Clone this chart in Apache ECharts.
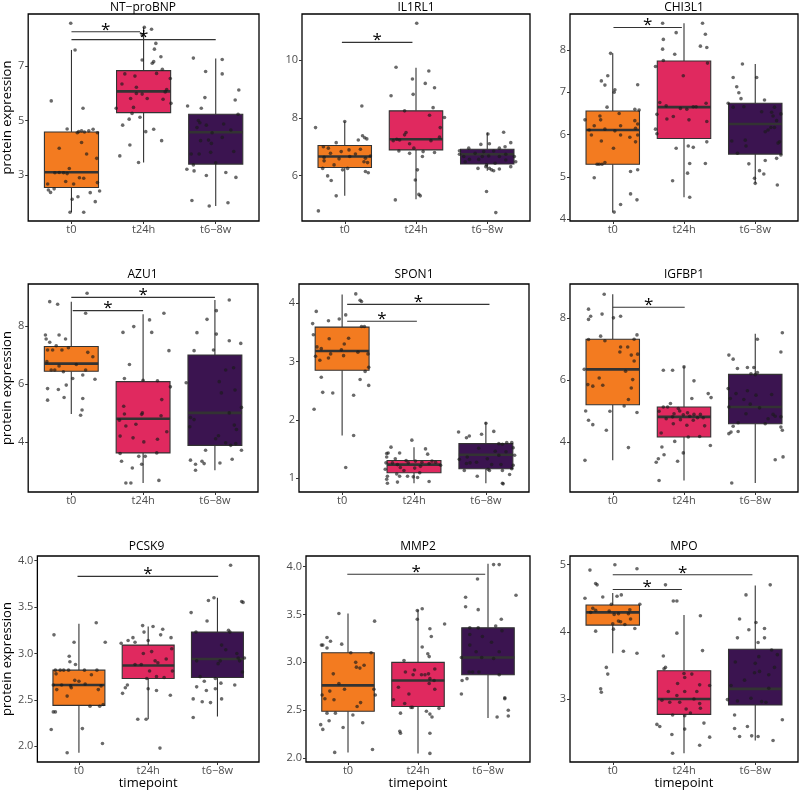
<!DOCTYPE html>
<html><head><meta charset="utf-8">
<script src="https://cdn.jsdelivr.net/npm/echarts@6/dist/echarts.min.js"></script>
<style>html,body{margin:0;padding:0;background:#fff}#c{width:800px;height:793px}</style>
</head><body><div id="c"></div>
<script>
// ---------- DATA ----------
const categories = ['t0', 't24h', 't6−8w'];
const panelTitles = ['NT−proBNP', 'IL1RL1', 'CHI3L1', 'AZU1', 'SPON1', 'IGFBP1', 'PCSK9', 'MMP2', 'MPO'];

// points: [jitter offset, protein expression]
const NTproBNP_t0 = [[-0.01,8.57],[0.05,7.59],[-0.28,5.72],[0.16,5.45],[-0.06,4.69],[0.10,4.59],[0.08,4.55],[0.14,4.62],[0.18,4.58],[0.24,4.62],[0.30,4.68],[0.36,4.55],[-0.17,3.98],[0.14,4.19],[0.21,3.77],[0.35,3.61],[-0.03,3.24],[-0.23,3.08],[-0.17,3.09],[-0.11,3.08],[-0.06,3.05],[0.11,2.90],[0.17,2.88],[-0.08,2.76],[0.03,2.67],[-0.33,2.67],[0.36,2.72],[-0.32,2.45],[-0.29,2.36],[-0.24,2.49],[0.39,2.41],[0.26,2.35],[0.09,2.20],[0.01,2.11],[0.33,2.02],[-0.02,1.63],[0.17,1.63]];
const NTproBNP_t24h = [[0.01,8.42],[0.11,8.35],[-0.02,8.14],[0.17,7.83],[0.15,7.62],[0.24,7.34],[-0.02,7.22],[0.14,7.16],[0.12,7.10],[0.26,6.88],[-0.26,6.71],[-0.12,6.63],[0.18,6.73],[0.37,6.54],[-0.30,6.34],[-0.10,6.22],[0.32,6.14],[0.30,6.05],[-0.18,5.81],[-0.10,5.99],[-0.02,5.97],[0.05,5.81],[0.27,5.78],[0.38,5.63],[-0.38,5.45],[-0.14,5.48],[-0.16,5.26],[-0.20,5.05],[-0.05,5.12],[-0.29,4.83],[0.03,4.59],[0.14,4.68],[-0.19,4.10],[0.25,4.26],[-0.33,3.70],[-0.07,3.46]];
const NTproBNP_t68w = [[-0.31,7.29],[0.09,7.24],[-0.14,6.80],[0.09,6.71],[0.32,6.12],[0.27,5.75],[-0.15,5.84],[-0.39,5.53],[-0.20,5.45],[0.31,5.23],[-0.24,5.00],[-0.22,4.92],[-0.13,4.83],[-0.26,4.74],[0.11,4.87],[0.21,4.65],[-0.05,4.55],[-0.10,4.28],[-0.21,4.26],[-0.06,4.16],[0.09,4.38],[-0.34,3.77],[-0.23,3.77],[-0.07,3.83],[0.25,3.86],[-0.31,3.37],[0.00,3.45],[-0.40,3.21],[-0.30,3.15],[0.14,3.09],[-0.13,2.98],[0.28,2.91],[-0.33,2.06],[0.17,1.98],[-0.09,1.86]];
const NTproBNP_box = [[1.64,2.54,3.10,4.58,7.59],[3.46,5.29,6.07,6.83,8.42],[1.86,3.40,4.57,5.23,7.28]];
const NTproBNP_sig = [[1.0,1.95,8.26],[1.0,3.0,7.97]];
const NTproBNP_yticks = [3,5,7];
const NTproBNP_yrange = [1.31,8.91];

const IL1RL1_t0 = [[-0.41,7.66],[0,7.87],[0.24,8.41],[0.25,7.38],[0.28,7.31],[0.31,7.27],[0.19,7.23],[-0.12,7.14],[-0.30,7.00],[-0.23,6.95],[0.22,6.91],[0.06,6.89],[-0.05,6.83],[0.15,6.75],[-0.20,6.77],[-0.29,6.63],[0.07,6.66],[0.36,6.68],[0.29,6.60],[-0.08,6.58],[-0.29,6.51],[0.27,6.48],[0.32,6.45],[-0.15,6.37],[-0.31,6.25],[-0.03,6.20],[0.04,6.25],[0.29,6.14],[0.33,6.10],[-0.24,5.99],[-0.19,5.83],[-0.12,5.30],[-0.37,4.78]];
const IL1RL1_t24h = [[0.01,11.27],[-0.28,9.75],[0.18,9.62],[-0.05,9.34],[0.13,9.19],[0.26,9.04],[-0.04,8.81],[-0.35,8.76],[0.24,8.35],[-0.16,8.24],[0.19,8.09],[0.40,8.01],[0.34,7.66],[-0.14,7.49],[-0.16,7.41],[-0.32,7.21],[-0.27,7.26],[-0.23,7.23],[-0.09,7.10],[0.21,7.21],[0.33,7.33],[-0.03,6.95],[-0.24,6.85],[-0.09,6.77],[0.10,6.83],[0.26,6.80],[0.09,6.66],[0.02,6.20],[-0.01,5.85],[0.04,5.35],[0.06,5.30],[-0.29,5.16]];
const IL1RL1_t68w = [[0.01,7.44],[0.23,7.50],[0.33,7.14],[0.03,7.10],[-0.09,7.08],[-0.39,6.86],[-0.26,6.95],[0.17,6.95],[0.25,7.00],[0.09,6.85],[-0.05,6.83],[-0.17,6.77],[-0.39,6.74],[0.26,6.74],[-0.33,6.66],[-0.07,6.66],[0.02,6.68],[0.17,6.66],[0.38,6.66],[-0.25,6.56],[-0.12,6.56],[0.26,6.54],[-0.31,6.48],[0.40,6.48],[0.11,6.43],[-0.01,6.37],[0.33,6.31],[-0.13,6.25],[0.03,6.25],[-0.02,6.31],[0.06,6.20],[0.17,6.23],[0.09,6.17],[-0.01,5.45],[0.12,4.72]];
const IL1RL1_box = [[5.30,6.28,6.66,7.04,7.87],[5.18,6.89,7.26,8.24,9.73],[6.17,6.40,6.74,6.91,7.49]];
const IL1RL1_sig = [[0.96,1.95,10.61]];
const IL1RL1_yticks = [6,8,10];
const IL1RL1_yrange = [4.43,11.59];

const CHI3L1_t0 = [[-0.03,7.92],[-0.07,7.39],[-0.16,7.27],[-0.11,7.17],[0.35,7.18],[0.03,7.06],[0.02,7.00],[-0.08,6.65],[0.31,6.60],[0.37,6.58],[0.09,6.50],[-0.18,6.44],[-0.39,6.35],[-0.17,6.35],[0.31,6.33],[0.35,6.25],[-0.26,6.21],[0.11,6.21],[-0.33,6.11],[-0.11,6.13],[0.32,6.15],[0.03,6.09],[-0.30,5.99],[0.11,5.99],[0.24,5.94],[0.35,5.99],[-0.16,5.85],[0.32,5.83],[0.01,5.68],[-0.11,5.34],[-0.22,5.30],[-0.19,5.30],[-0.15,5.30],[-0.26,4.98],[0.25,5.13],[0.35,5.17],[0.25,4.60],[0.11,4.35],[0.34,4.46],[0.02,4.17]];
const CHI3L1_t24h = [[-0.30,8.63],[0.26,8.63],[-0.11,8.41],[0.30,8.37],[-0.29,8.25],[0.23,8.09],[0.32,8.06],[-0.30,8.02],[-0.13,7.90],[-0.29,7.75],[0.33,7.69],[-0.40,7.61],[-0.01,7.39],[-0.34,6.76],[0.31,6.74],[-0.25,6.68],[0.13,6.66],[0.17,6.66],[-0.05,6.62],[0.04,6.60],[-0.38,6.48],[-0.15,6.43],[-0.24,6.37],[0.07,6.35],[0.32,6.31],[-0.40,6.13],[-0.38,6.02],[-0.11,5.68],[0.06,5.73],[0.13,5.70],[0.32,5.83],[0.08,5.32],[0.30,5.32],[0.05,5.09],[-0.16,4.91],[0.08,4.52]];
const CHI3L1_t68w = [[-0.18,7.67],[-0.31,7.35],[0.02,7.35],[-0.26,7.13],[-0.23,6.99],[-0.20,6.85],[0.13,6.82],[-0.38,6.74],[-0.31,6.65],[-0.16,6.66],[0.27,6.65],[0.09,6.54],[0.23,6.53],[0.25,6.44],[0.36,6.49],[0.30,6.33],[0.27,6.17],[0.22,6.17],[0.18,6.11],[0.14,6.07],[-0.14,5.87],[-0.33,5.85],[0.34,5.83],[0.32,5.80],[-0.13,5.73],[-0.25,5.56],[0.36,5.52],[-0.09,5.31],[0.30,5.44],[0.14,5.39],[0.06,5.15],[0.12,5.07],[-0.01,4.97],[0.00,4.85],[0.31,4.81]];
const CHI3L1_box = [[4.16,5.30,6.11,6.56,7.92],[4.52,5.91,6.65,7.74,8.63],[4.85,5.54,6.25,6.74,7.67]];
const CHI3L1_sig = [[1.01,1.97,8.53]];
const CHI3L1_yticks = [4,5,6,7,8];
const CHI3L1_yrange = [3.96,8.85];

const AZU1_t0 = [[0.22,9.13],[-0.30,8.84],[-0.19,8.75],[0.20,8.44],[-0.36,7.69],[-0.17,7.69],[-0.35,7.55],[-0.08,7.55],[-0.30,7.44],[-0.21,7.32],[-0.04,7.25],[-0.33,7.17],[-0.26,7.17],[-0.13,7.17],[0.23,7.09],[0.30,6.94],[-0.34,6.77],[0.07,6.67],[-0.17,6.62],[-0.28,6.48],[-0.23,6.48],[-0.11,6.42],[0.20,6.48],[0.16,6.31],[0.02,6.19],[0.33,6.16],[-0.33,5.84],[-0.18,5.81],[-0.07,5.96],[-0.10,5.53],[-0.33,5.44],[0.16,5.50],[0.15,5.10],[0.13,4.92]];
const AZU1_t24h = [[0.29,8.44],[0.09,8.21],[-0.13,7.98],[-0.28,7.78],[0.12,7.78],[0.36,7.15],[-0.19,6.67],[-0.26,6.19],[0.00,6.13],[0.20,6.11],[0.38,5.90],[0.26,5.46],[-0.27,5.23],[-0.01,5.00],[-0.02,4.95],[-0.26,4.96],[-0.33,4.75],[-0.10,4.61],[-0.24,4.55],[0.25,4.90],[0.33,4.35],[-0.32,4.20],[-0.14,4.14],[0.20,4.09],[0.01,4.00],[-0.32,3.60],[0.19,3.62],[-0.06,3.50],[0.03,3.50],[-0.30,3.33],[-0.02,3.23],[-0.15,3.10],[-0.24,2.58],[-0.17,2.58],[0.22,2.67]];
const AZU1_t68w = [[0.20,8.90],[0.02,8.53],[-0.11,8.23],[-0.25,7.77],[0.02,7.72],[0.20,7.49],[0.36,7.40],[-0.29,7.15],[-0.02,7.17],[0.26,6.56],[0.15,6.48],[0.06,6.08],[-0.40,6.04],[0.28,5.79],[0.09,5.69],[0.37,5.19],[-0.34,4.84],[0.20,5.00],[-0.29,4.77],[-0.35,4.52],[0.27,4.58],[0.30,4.43],[0.01,4.11],[0.05,4.21],[0.15,3.97],[0.29,3.94],[0.22,3.88],[-0.13,3.71],[0.37,3.71],[-0.34,3.37],[0.24,3.40],[-0.18,3.33],[-0.15,3.25],[-0.27,3.23],[0.07,3.27],[-0.27,3.02]];
const AZU1_box = [[4.96,6.44,6.70,7.29,8.84],[2.58,3.62,4.80,6.08,8.41],[3.02,3.88,5.00,7.00,8.90]];
const AZU1_sig = [[1.02,2.0,8.53],[1.0,3.0,8.99]];
const AZU1_yticks = [4,6,8];
const AZU1_yrange = [2.27,9.45];

const SPON1_t0 = [[0.19,4.16],[0.25,4.05],[0.27,4.03],[-0.36,3.86],[0.05,3.80],[-0.19,3.70],[-0.04,3.73],[-0.41,3.65],[0.27,3.60],[0.31,3.60],[-0.40,3.46],[-0.18,3.39],[0.09,3.40],[0.03,3.30],[-0.35,3.25],[-0.29,3.22],[-0.01,3.20],[0.22,3.16],[-0.16,3.13],[-0.37,3.09],[0.02,3.10],[0.36,3.13],[-0.19,3.06],[-0.31,3.02],[0.37,2.90],[0.32,2.83],[-0.29,2.73],[0.25,2.69],[0.37,2.59],[-0.27,2.47],[-0.13,2.46],[0.16,2.42],[-0.39,2.18],[0.16,1.73],[0.05,1.18]];
const SPON1_t24h = [[-0.03,1.65],[-0.32,1.53],[0.16,1.50],[-0.20,1.43],[-0.36,1.43],[-0.38,1.42],[0.19,1.41],[-0.38,1.36],[-0.26,1.33],[-0.11,1.30],[0.02,1.29],[0.25,1.29],[-0.39,1.26],[-0.30,1.26],[-0.08,1.26],[0.11,1.27],[0.21,1.25],[0.30,1.27],[-0.23,1.23],[0.37,1.22],[0.09,1.20],[-0.19,1.18],[0.01,1.17],[-0.40,1.15],[-0.14,1.13],[-0.24,1.07],[0.08,1.09],[-0.37,1.03],[-0.20,1.03],[-0.09,1.03],[-0.01,1.02],[0.05,1.01],[-0.38,0.98],[-0.23,0.93],[-0.37,0.91],[0.21,0.94]];
const SPON1_t68w = [[0.00,1.94],[-0.38,1.79],[0.11,1.80],[-0.06,1.75],[-0.23,1.72],[-0.27,1.69],[0.29,1.61],[0.36,1.61],[0.18,1.59],[0.23,1.58],[-0.10,1.51],[0.38,1.52],[0.13,1.46],[0.28,1.45],[0.18,1.39],[0.40,1.39],[-0.26,1.36],[-0.37,1.32],[0.02,1.33],[-0.13,1.27],[-0.22,1.26],[-0.27,1.25],[0.08,1.23],[0.21,1.23],[0.38,1.22],[0.03,1.15],[0.36,1.16],[0.05,1.13],[-0.30,1.13],[0.23,1.13],[0.33,1.06],[-0.12,1.03],[0.23,0.91],[0.24,0.90]];
const SPON1_box = [[1.73,2.85,3.18,3.59,4.15],[0.91,1.09,1.23,1.30,1.53],[0.91,1.16,1.40,1.59,1.96]];
const SPON1_sig = [[1.07,2.04,3.69],[1.07,3.05,3.98]];
const SPON1_yticks = [1,2,3,4];
const SPON1_yrange = [0.76,4.33];

const IGFBP1_t0 = [[-0.12,8.76],[-0.34,8.28],[-0.31,8.05],[-0.15,8.12],[0.11,8.05],[0.01,8.00],[-0.34,7.95],[0.34,7.45],[-0.17,7.41],[-0.34,7.30],[-0.11,7.26],[0.30,7.31],[0.11,7.06],[0.21,7.06],[0.10,6.90],[0.26,6.80],[0.35,6.83],[0.30,6.61],[0.18,6.28],[-0.40,6.34],[-0.19,6.06],[0.28,6.01],[-0.35,5.85],[-0.28,5.80],[-0.14,5.83],[0.26,5.74],[0.22,5.37],[0.16,5.16],[-0.04,4.99],[-0.38,5.00],[0.34,4.95],[-0.34,4.70],[-0.28,4.56],[-0.09,4.38],[0.22,3.82],[-0.39,3.41]];
const IGFBP1_t24h = [[-0.29,6.31],[-0.16,6.31],[0.00,6.42],[0.14,5.97],[0.11,5.40],[0.34,5.56],[0.38,5.43],[-0.19,5.24],[-0.29,5.13],[-0.23,5.13],[-0.08,5.08],[-0.06,5.00],[-0.35,4.99],[0.05,4.94],[-0.14,4.91],[0.14,4.89],[0.23,4.89],[-0.01,4.88],[-0.16,4.81],[0.08,4.83],[0.19,4.78],[0.27,4.78],[-0.25,4.75],[-0.05,4.72],[0.13,4.70],[-0.15,4.59],[0.04,4.54],[0.29,4.52],[-0.32,4.29],[0.06,4.16],[0.22,4.18],[-0.13,4.02],[0.37,3.89],[-0.31,3.84],[-0.01,3.65],[-0.28,3.59],[-0.36,3.46],[-0.09,3.38],[-0.39,3.35],[-0.35,2.76]];
const IGFBP1_t68w = [[0.38,7.52],[0.03,7.31],[0.36,6.90],[-0.37,6.80],[-0.31,6.67],[-0.25,6.37],[-0.11,6.40],[-0.02,6.40],[-0.06,6.20],[0.00,6.17],[0.03,6.24],[-0.38,5.72],[-0.11,5.65],[-0.27,5.56],[0.23,5.53],[0.01,5.51],[-0.35,5.40],[-0.16,5.37],[-0.07,5.22],[-0.37,5.13],[0.06,5.10],[-0.13,4.91],[0.25,4.89],[0.28,4.83],[0.18,4.75],[0.36,4.81],[0.14,4.59],[-0.24,4.62],[-0.31,4.51],[0.36,4.48],[0.38,4.38],[-0.24,4.34],[-0.34,4.32],[-0.37,4.27],[0.28,3.43],[0.39,3.52],[-0.33,2.68]];
const IGFBP1_box = [[3.41,5.20,6.34,7.31,8.76],[2.76,4.16,4.81,5.13,6.44],[2.68,4.59,5.13,6.18,7.49]];
const IGFBP1_sig = [[1.0,2.01,8.34]];
const IGFBP1_yticks = [4,6,8];
const IGFBP1_yrange = [2.39,9.09];

const PCSK9_t0 = [[0.25,3.33],[-0.36,3.20],[0.38,3.12],[-0.07,3.12],[-0.14,2.97],[-0.13,2.91],[-0.05,2.88],[-0.34,2.82],[-0.27,2.82],[-0.22,2.82],[-0.15,2.82],[0.08,2.82],[0.26,2.82],[-0.33,2.78],[0.18,2.77],[-0.06,2.71],[0.00,2.70],[-0.37,2.66],[-0.25,2.66],[-0.12,2.65],[0.09,2.67],[0.32,2.65],[-0.32,2.61],[-0.11,2.63],[0.28,2.61],[-0.17,2.54],[0.35,2.45],[0.16,2.43],[0.30,2.43],[-0.37,2.37],[-0.34,2.37],[0.05,2.19],[-0.40,2.18],[0.34,2.03],[-0.17,1.93]];
const PCSK9_t24h = [[-0.08,3.30],[0.07,3.29],[0.21,3.26],[-0.06,3.23],[0.18,3.20],[-0.22,3.17],[-0.19,3.12],[-0.39,3.11],[0.00,3.14],[0.33,3.17],[-0.29,3.14],[0.34,3.05],[0.05,3.02],[-0.07,3.00],[0.26,2.94],[0.10,2.92],[0.14,2.90],[-0.19,2.88],[-0.10,2.88],[0.02,2.81],[0.35,2.81],[-0.02,2.73],[-0.30,2.66],[0.12,2.75],[0.23,2.74],[-0.33,2.63],[0.00,2.62],[-0.37,2.57],[0.12,2.60],[0.32,2.55],[-0.15,2.29],[-0.03,2.29],[0.17,1.98]];
const PCSK9_t68w = [[0.19,3.95],[-0.05,3.60],[-0.13,3.57],[0.35,3.56],[0.37,3.55],[-0.38,3.44],[-0.15,3.35],[0.16,3.25],[0.18,3.23],[-0.31,3.23],[0.06,3.09],[0.12,3.04],[0.28,3.00],[-0.30,2.92],[0.30,2.95],[0.39,2.95],[0.04,2.92],[0.32,2.92],[0.01,2.89],[0.36,2.80],[-0.25,2.75],[-0.03,2.73],[-0.19,2.70],[0.05,2.68],[0.25,2.66],[-0.30,2.64],[-0.03,2.62],[-0.16,2.60],[-0.35,2.51],[0.06,2.51],[-0.22,2.48],[-0.10,2.47],[-0.35,2.31]];
const PCSK9_box = [[1.93,2.44,2.66,2.82,3.32],[2.29,2.73,2.87,3.09,3.29],[2.32,2.74,2.94,3.23,3.60]];
const PCSK9_sig = [[0.98,3.01,3.83]];
const PCSK9_yticks = [2.0,2.5,3.0,3.5,4.0];
const PCSK9_yrange = [1.83,4.05];

const MMP2_t0 = [[-0.13,3.51],[0.38,3.43],[-0.30,3.26],[-0.25,3.22],[-0.38,3.18],[-0.36,3.18],[-0.30,3.15],[-0.09,3.19],[0.33,3.10],[0.04,3.10],[0.11,3.00],[0.12,2.95],[0.17,2.94],[0.23,2.97],[-0.21,2.88],[-0.13,2.78],[-0.05,2.72],[0.37,2.72],[0.39,2.66],[-0.37,2.66],[-0.26,2.70],[-0.33,2.62],[-0.20,2.61],[0.18,2.58],[0.13,2.54],[-0.30,2.47],[-0.18,2.47],[0.07,2.45],[-0.27,2.39],[0.21,2.37],[-0.39,2.35],[-0.36,2.30],[-0.07,2.32],[0.35,2.09],[-0.19,2.06]];
const MMP2_t24h = [[0.06,3.56],[-0.01,3.54],[-0.01,3.45],[0.38,3.40],[0.17,3.35],[0.19,3.27],[0.06,3.16],[0.14,3.09],[0.16,3.06],[-0.20,3.02],[-0.05,2.92],[-0.18,2.90],[0.05,2.87],[0.10,2.87],[0.15,2.88],[-0.07,2.87],[0.24,2.93],[0.17,2.83],[0.23,2.81],[-0.28,2.74],[0.24,2.72],[0.16,2.78],[-0.13,2.67],[-0.35,2.61],[-0.19,2.57],[-0.10,2.53],[-0.08,2.53],[0.30,2.52],[-0.25,2.47],[0.12,2.49],[0.17,2.46],[0.20,2.43],[-0.26,2.28],[-0.25,2.26],[0.17,2.26],[0.17,2.05]];
const MMP2_t68w = [[0.08,4.02],[0.16,4.02],[-0.15,3.87],[0.40,3.70],[-0.32,3.68],[-0.32,3.58],[-0.14,3.55],[0.19,3.45],[-0.26,3.36],[0.11,3.38],[0.20,3.33],[-0.14,3.36],[-0.26,3.29],[-0.08,3.27],[0.05,3.21],[-0.26,3.18],[-0.17,3.11],[0.16,3.11],[-0.38,3.05],[-0.09,3.05],[0.08,3.04],[-0.27,2.90],[-0.22,2.90],[-0.13,2.90],[0.16,2.87],[-0.30,2.83],[-0.37,2.81],[-0.38,2.67],[0.24,2.63],[0.24,2.62],[0.29,2.50],[0.29,2.44],[0.13,2.43]];
const MMP2_box = [[2.06,2.49,2.76,3.10,3.51],[2.05,2.54,2.81,3.00,3.55],[2.42,2.87,3.05,3.36,4.03]];
const MMP2_sig = [[0.99,2.96,3.92]];
const MMP2_yticks = [2.0,2.5,3.0,3.5,4.0];
const MMP2_yrange = [1.96,4.11];

const MPO_t0 = [[0.03,5.00],[-0.32,4.92],[0.34,4.94],[-0.24,4.72],[-0.22,4.70],[0.12,4.55],[0.06,4.53],[-0.14,4.52],[-0.39,4.50],[-0.02,4.41],[0.38,4.41],[-0.28,4.35],[-0.24,4.32],[0.24,4.33],[-0.31,4.29],[-0.05,4.31],[0.08,4.27],[0.22,4.27],[0.02,4.26],[0.25,4.19],[0.08,4.16],[0.11,4.15],[0.00,4.12],[0.17,4.11],[0.31,4.05],[-0.24,4.01],[0.01,4.04],[0.15,3.71],[0.34,3.68],[-0.09,3.47],[-0.07,3.37],[-0.17,3.15],[-0.16,3.10]];
const MPO_t24h = [[-0.26,4.70],[-0.15,4.46],[-0.10,4.46],[0.23,4.24],[-0.10,3.98],[-0.29,3.64],[0.26,3.72],[-0.28,3.45],[-0.26,3.47],[0.00,3.38],[0.11,3.37],[0.01,3.32],[-0.09,3.23],[0.22,3.21],[0.36,3.20],[-0.22,3.11],[0.01,3.11],[0.18,3.11],[-0.10,3.05],[-0.31,2.98],[-0.20,2.95],[-0.06,2.95],[0.14,3.00],[0.22,2.93],[0.23,2.86],[0.03,2.85],[0.09,2.79],[-0.16,2.76],[0.01,2.75],[-0.38,2.62],[-0.34,2.59],[0.28,2.64],[0.01,2.55],[-0.17,2.47],[0.36,2.43],[0.22,2.31],[-0.16,2.19]];
const MPO_t68w = [[0.21,4.70],[-0.13,4.55],[-0.22,4.19],[0.01,4.14],[-0.09,4.03],[0.13,4.05],[0.13,3.91],[-0.25,3.91],[0.04,3.84],[0.23,3.73],[0.31,3.66],[0.05,3.63],[-0.28,3.55],[0.00,3.53],[-0.15,3.28],[-0.01,3.39],[0.06,3.41],[0.27,3.47],[0.19,3.36],[-0.34,3.20],[0.19,3.16],[-0.39,2.99],[-0.25,2.97],[-0.06,3.01],[0.09,2.96],[0.15,2.95],[-0.29,2.76],[0.38,2.69],[-0.29,2.56],[-0.11,2.59],[-0.22,2.44],[-0.05,2.45],[0.04,2.44],[0.25,2.38]];
const MPO_box = [[3.68,4.10,4.29,4.40,4.58],[2.19,2.77,3.00,3.42,4.25],[2.38,2.91,3.15,3.74,4.69]];
const MPO_sig = [[1.0,1.97,4.63],[1.0,2.96,4.85]];
const MPO_yticks = [3,4,5];
const MPO_yrange = [2.06,5.13];

// ---------- LAYOUT / STYLE ----------
const FILL = ['#F37B20', '#E0295F', '#3B1450'];
const FONT = 'Open Sans';
const panels = [
  {pts:[NTproBNP_t0,NTproBNP_t24h,NTproBNP_t68w], box:NTproBNP_box, sig:NTproBNP_sig, ticks:NTproBNP_yticks, range:NTproBNP_yrange, g:[27,14,232,207], yName:13, xName:false, dec:false},
  {pts:[IL1RL1_t0,IL1RL1_t24h,IL1RL1_t68w], box:IL1RL1_box, sig:IL1RL1_sig, ticks:IL1RL1_yticks, range:IL1RL1_yrange, g:[302,14,228,207], yName:null, xName:false, dec:false},
  {pts:[CHI3L1_t0,CHI3L1_t24h,CHI3L1_t68w], box:CHI3L1_box, sig:CHI3L1_sig, ticks:CHI3L1_yticks, range:CHI3L1_yrange, g:[570,14,228,207], yName:null, xName:false, dec:false},
  {pts:[AZU1_t0,AZU1_t24h,AZU1_t68w], box:AZU1_box, sig:AZU1_sig, ticks:AZU1_yticks, range:AZU1_yrange, g:[27,284,231,208], yName:13, xName:false, dec:false},
  {pts:[SPON1_t0,SPON1_t24h,SPON1_t68w], box:SPON1_box, sig:SPON1_sig, ticks:SPON1_yticks, range:SPON1_yrange, g:[299,284,230,208], yName:null, xName:false, dec:false},
  {pts:[IGFBP1_t0,IGFBP1_t24h,IGFBP1_t68w], box:IGFBP1_box, sig:IGFBP1_sig, ticks:IGFBP1_yticks, range:IGFBP1_yrange, g:[570,284,228,208], yName:null, xName:false, dec:false},
  {pts:[PCSK9_t0,PCSK9_t24h,PCSK9_t68w], box:PCSK9_box, sig:PCSK9_sig, ticks:PCSK9_yticks, range:PCSK9_yrange, g:[34,556,225,206], yName:20, xName:true, dec:true},
  {pts:[MMP2_t0,MMP2_t24h,MMP2_t68w], box:MMP2_box, sig:MMP2_sig, ticks:MMP2_yticks, range:MMP2_yrange, g:[306,556,224,206], yName:null, xName:true, dec:true},
  {pts:[MPO_t0,MPO_t24h,MPO_t68w], box:MPO_box, sig:MPO_sig, ticks:MPO_yticks, range:MPO_yrange, g:[570,556,228,206], yName:null, xName:true, dec:false}
];

function renderBox(params, api) {
  const x = api.value(0), lo = api.value(1), q1 = api.value(2), med = api.value(3), q3 = api.value(4), hi = api.value(5), k = api.value(6);
  const hw = 0.375;
  const a = api.coord([x - hw, q3]), b = api.coord([x + hw, q1]);
  const cHi = api.coord([x, hi]), cLo = api.coord([x, lo]);
  const mL = api.coord([x - hw, med]), mR = api.coord([x + hw, med]);
  return {type: 'group', children: [
    {type: 'line', shape: {x1: cHi[0], y1: cHi[1], x2: cHi[0], y2: a[1]}, style: {stroke: '#333', lineWidth: 1.1}},
    {type: 'line', shape: {x1: cLo[0], y1: b[1], x2: cLo[0], y2: cLo[1]}, style: {stroke: '#333', lineWidth: 1.1}},
    {type: 'rect', shape: {x: a[0], y: a[1], width: b[0] - a[0], height: b[1] - a[1]}, style: {fill: FILL[k], stroke: '#333', lineWidth: 1.1}},
    {type: 'line', shape: {x1: mL[0], y1: mL[1], x2: mR[0], y2: mR[1]}, style: {stroke: '#333', lineWidth: 2.6}}
  ]};
}
function renderSig(params, api) {
  const p1 = api.coord([api.value(0), api.value(2)]), p2 = api.coord([api.value(1), api.value(2)]);
  return {type: 'group', children: [
    {type: 'line', shape: {x1: p1[0], y1: p1[1], x2: p2[0], y2: p2[1]}, style: {stroke: '#333', lineWidth: 1.1}},
    {type: 'text', x: (p1[0] + p2[0]) / 2, y: p1[1] - 2, style: {text: '*', fill: '#000', fontSize: 17, fontFamily: FONT, align: 'center', verticalAlign: 'middle'}}
  ]};
}

const option = {animation: false, textStyle: {fontFamily: FONT}, title: [], grid: [], xAxis: [], yAxis: [], series: []};
panels.forEach((p, i) => {
  const [L, T, W, H] = p.g;
  option.grid.push({left: L, top: T, width: W, height: H, show: true, borderColor: '#000', borderWidth: 1.3, backgroundColor: 'transparent'});
  option.title.push({text: panelTitles[i], left: L + W / 2, top: Math.max(2, T - 15), textAlign: 'center', padding: 0,
    textStyle: {fontSize: 12, fontWeight: 'normal', color: '#000', fontFamily: FONT, lineHeight: 12}});
  option.xAxis.push({gridIndex: i, type: 'value', min: 0.4, max: 3.6, splitLine: {show: false}, axisLine: {show: false},
    axisTick: {show: true, customValues: [1, 2, 3], length: 3, lineStyle: {color: '#333'}},
    axisLabel: {customValues: [1, 2, 3], formatter: v => categories[Math.round(v) - 1], color: '#4d4d4d', fontSize: 11, margin: 3, fontFamily: FONT},
    name: p.xName ? 'timepoint' : '', nameLocation: 'middle', nameGap: 14, nameTextStyle: {fontSize: 13, color: '#000', fontFamily: FONT}});
  option.yAxis.push({gridIndex: i, type: 'value', min: p.range[0], max: p.range[1], splitLine: {show: false}, axisLine: {show: false},
    axisTick: {show: true, customValues: p.ticks, length: 3, lineStyle: {color: '#333'}},
    axisLabel: {customValues: p.ticks, formatter: v => p.dec ? v.toFixed(1) : String(Math.round(v)), color: '#4d4d4d', fontSize: 11, margin: 4, fontFamily: FONT},
    name: p.yName ? 'protein expression' : '', nameLocation: 'middle', nameGap: p.yName || 0, nameTextStyle: {fontSize: 13, color: '#000', fontFamily: FONT}});
  option.series.push({type: 'custom', xAxisIndex: i, yAxisIndex: i, silent: true, z: 2,
    data: p.box.map((b, k) => [k + 1, b[0], b[1], b[2], b[3], b[4], k]),
    encode: {x: 0, y: [1, 2, 3, 4, 5]}, renderItem: renderBox});
  const pts = [];
  p.pts.forEach((grp, k) => grp.forEach(d => pts.push([k + 1 + d[0], d[1]])));
  option.series.push({type: 'scatter', xAxisIndex: i, yAxisIndex: i, silent: true, z: 3, data: pts, symbolSize: 3.6,
    itemStyle: {color: '#1a1a1a', opacity: 0.65}});
  option.series.push({type: 'custom', xAxisIndex: i, yAxisIndex: i, silent: true, z: 4, data: p.sig,
    encode: {x: [0, 1], y: 2}, renderItem: renderSig});
});
const chart = echarts.init(document.getElementById('c'), null, {renderer: 'canvas'});
chart.setOption(option);
</script>
</body></html>
